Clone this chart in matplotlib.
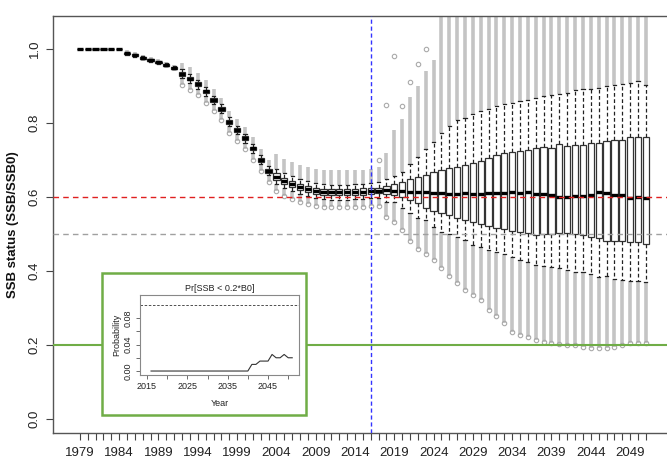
import matplotlib
matplotlib.use('Agg')
import matplotlib.pyplot as plt
from matplotlib.patches import Rectangle
import numpy as np

plt.rcParams['font.family'] = ['Liberation Sans', 'DejaVu Sans']

# ---------------- data ----------------
years = list(range(1979, 2052))

med = [1.000, 1.000, 1.000, 1.000, 1.000, 1.000,
       0.988, 0.983, 0.976, 0.970, 0.964, 0.957, 0.949, 0.933, 0.920, 0.905,
       0.885, 0.862, 0.838, 0.803, 0.781, 0.759, 0.731, 0.700, 0.671, 0.655,
       0.643, 0.635, 0.627, 0.621, 0.616, 0.613, 0.612, 0.612, 0.612, 0.613,
       0.614, 0.615, 0.617, 0.618, 0.616, 0.615, 0.613, 0.613, 0.612, 0.611,
       0.610, 0.609, 0.609, 0.610, 0.608, 0.609, 0.611, 0.610, 0.611, 0.612,
       0.610, 0.614, 0.608, 0.607, 0.604, 0.600, 0.600, 0.602, 0.603, 0.606,
       0.612, 0.610, 0.606, 0.604, 0.597, 0.600, 0.597]

q1 = [1.000, 1.000, 1.000, 1.000, 1.000, 1.000,
      0.986, 0.981, 0.974, 0.968, 0.962, 0.955, 0.947, 0.928, 0.915, 0.900,
      0.880, 0.857, 0.833, 0.798, 0.776, 0.754, 0.726, 0.695, 0.665, 0.647,
      0.635, 0.627, 0.619, 0.613, 0.608, 0.605, 0.604, 0.604, 0.604, 0.605,
      0.606, 0.607, 0.611, 0.607, 0.604, 0.600, 0.592, 0.584, 0.570, 0.561,
      0.557, 0.550, 0.542, 0.539, 0.533, 0.526, 0.521, 0.515, 0.512, 0.508,
      0.505, 0.503, 0.497, 0.499, 0.501, 0.502, 0.503, 0.500, 0.497, 0.491,
      0.488, 0.480, 0.480, 0.482, 0.478, 0.478, 0.474]

q3 = [1.000, 1.000, 1.000, 1.000, 1.000, 1.000,
      0.990, 0.985, 0.978, 0.972, 0.966, 0.959, 0.951, 0.938, 0.925, 0.910,
      0.890, 0.867, 0.843, 0.808, 0.786, 0.764, 0.736, 0.705, 0.676, 0.664,
      0.652, 0.644, 0.636, 0.630, 0.625, 0.622, 0.621, 0.621, 0.621, 0.622,
      0.623, 0.624, 0.625, 0.630, 0.636, 0.641, 0.648, 0.654, 0.660, 0.667,
      0.672, 0.677, 0.682, 0.686, 0.693, 0.697, 0.706, 0.712, 0.718, 0.722,
      0.725, 0.727, 0.731, 0.734, 0.733, 0.743, 0.738, 0.741, 0.741, 0.745,
      0.746, 0.750, 0.754, 0.755, 0.761, 0.763, 0.763]

whis_hi = [1.000, 1.000, 1.000, 1.000, 1.000, 1.000,
           0.992, 0.987, 0.980, 0.974, 0.968, 0.961, 0.953, 0.945, 0.932, 0.917,
           0.897, 0.874, 0.850, 0.815, 0.793, 0.771, 0.743, 0.712, 0.683, 0.676,
           0.664, 0.656, 0.648, 0.642, 0.637, 0.634, 0.633, 0.633, 0.633, 0.634,
           0.635, 0.637, 0.640, 0.648, 0.656, 0.668, 0.690, 0.708, 0.730, 0.748,
           0.774, 0.792, 0.808, 0.814, 0.825, 0.832, 0.837, 0.845, 0.850, 0.855,
           0.858, 0.862, 0.868, 0.872, 0.876, 0.878, 0.880, 0.889, 0.891, 0.893,
           0.895, 0.900, 0.903, 0.906, 0.909, 0.912, 0.902]

whis_lo = [1.000, 1.000, 1.000, 1.000, 1.000, 1.000,
           0.984, 0.979, 0.972, 0.966, 0.960, 0.953, 0.945, 0.921, 0.908, 0.893,
           0.873, 0.850, 0.826, 0.791, 0.769, 0.747, 0.719, 0.688, 0.659, 0.636,
           0.624, 0.616, 0.608, 0.602, 0.597, 0.594, 0.593, 0.593, 0.593, 0.594,
           0.595, 0.596, 0.597, 0.587, 0.585, 0.569, 0.556, 0.542, 0.538, 0.520,
           0.506, 0.500, 0.493, 0.484, 0.470, 0.466, 0.457, 0.450, 0.446, 0.437,
           0.430, 0.425, 0.416, 0.414, 0.410, 0.408, 0.403, 0.398, 0.398, 0.392,
           0.383, 0.386, 0.378, 0.376, 0.374, 0.374, 0.371]

# extent of the dense band of outliers above / below the whiskers
flier_hi = [1.000, 1.000, 1.000, 1.000, 1.000, 1.000,
            0.996, 0.991, 0.984, 0.978, 0.972, 0.965, 0.957, 0.963, 0.950, 0.935,
            0.915, 0.892, 0.868, 0.833, 0.811, 0.789, 0.761, 0.730, 0.701, 0.715,
            0.703, 0.695, 0.687, 0.681, 0.676, 0.673, 0.672, 0.672, 0.672, 0.673,
            0.674, 0.675, 0.680, 0.720, 0.780, 0.810, 0.870, 0.900, 0.940, 0.970,
            1.200, 1.200, 1.200, 1.200, 1.200, 1.200, 1.200, 1.200, 1.200, 1.200,
            1.200, 1.200, 1.200, 1.200, 1.200, 1.200, 1.200, 1.200, 1.200, 1.200,
            1.200, 1.200, 1.200, 1.200, 1.200, 1.200, 1.200]

flier_lo = [1.000, 1.000, 1.000, 1.000, 1.000, 1.000,
            0.980, 0.975, 0.968, 0.962, 0.956, 0.949, 0.941, 0.903, 0.890, 0.875,
            0.855, 0.832, 0.808, 0.773, 0.751, 0.729, 0.701, 0.670, 0.641, 0.615,
            0.603, 0.595, 0.587, 0.581, 0.576, 0.573, 0.572, 0.572, 0.572, 0.573,
            0.574, 0.575, 0.575, 0.547, 0.533, 0.511, 0.480, 0.460, 0.445, 0.430,
            0.407, 0.385, 0.367, 0.349, 0.335, 0.322, 0.295, 0.277, 0.259, 0.236,
            0.227, 0.222, 0.214, 0.209, 0.205, 0.203, 0.200, 0.200, 0.195, 0.191,
            0.191, 0.191, 0.195, 0.200, 0.205, 0.205, 0.205]

# isolated upper outliers in the early projection years
iso_years = [2017, 2018, 2019, 2020, 2021, 2022, 2023]
iso_vals = [0.700, 0.849, 0.980, 0.845, 0.910, 0.960, 1.000]

proj_start = 2016
ref_red = 0.6
ref_grey = 0.5
ref_green = 0.2

yticks = [0.0, 0.2, 0.4, 0.6, 0.8, 1.0]

# inset: probability SSB < 0.2 B0
p_years = list(range(2016, 2052))
p_vals = [0.0] * 25 + [0.010, 0.010, 0.015, 0.015, 0.015, 0.025,
                       0.020, 0.020, 0.025, 0.020, 0.020]
p_limit = 0.1

# ---------------- figure ----------------
W, H = 667, 461
fig = plt.figure(figsize=(W / 100, H / 100), dpi=100)


def fr(x0, y0, x1, y1):
    return [x0 / W, 1 - y1 / H, (x1 - x0) / W, (y1 - y0) / H]


ax = fig.add_axes(fr(53, 16, 672.7, 433))
ax.set_xlim(1975.58, 2054.42)
ax.set_ylim(-0.038, 1.089)

yr = np.array(years)
band_col = '#c4c4c4'
ax.vlines(yr, whis_hi, flier_hi, colors=band_col, lw=2.6, zorder=1)
ax.vlines(yr, flier_lo, whis_lo, colors=band_col, lw=2.6, zorder=1)
lo_arr = np.array(flier_lo)
wl_arr = np.array(whis_lo)
m = lo_arr < wl_arr - 0.01
ax.plot(yr[m], lo_arr[m], 'o', mfc='none', mec='#aaaaaa', ms=3.2, mew=0.8, zorder=1)
ax.plot(iso_years, iso_vals, 'o', mfc='none', mec='#aaaaaa', ms=3.2, mew=0.8, zorder=1)

stats = [dict(med=a, q1=b, q3=c, whislo=d, whishi=e, fliers=[])
         for a, b, c, d, e in zip(med, q1, q3, whis_lo, whis_hi)]
ax.bxp(stats, positions=years, widths=0.8, patch_artist=True, showfliers=False,
       manage_ticks=False,
       boxprops=dict(facecolor='white', edgecolor='#333333', linewidth=0.9),
       medianprops=dict(color='black', linewidth=2.4, solid_capstyle='butt'),
       whiskerprops=dict(color='#222222', linewidth=0.9, linestyle=(0, (3, 2))),
       capprops=dict(color='#222222', linewidth=0.9),
       zorder=2)

ax.axhline(ref_red, color='#e02020', lw=1.0, ls=(0, (4, 3)), zorder=3)
ax.axhline(ref_grey, color='#a0a0a0', lw=1.0, ls=(0, (4, 3)), zorder=3)
ax.axhline(ref_green, color='#70ad47', lw=1.5, zorder=3)
ax.axvline(proj_start, color='#3333ff', lw=1.0, ls=(0, (3, 2)), zorder=3)

ax.set_xticks(years)
ax.set_xticklabels([str(y) if (y - years[0]) % 5 == 0 else '' for y in years])
ax.set_yticks(yticks)
ax.set_yticklabels(['%.1f' % v for v in yticks], rotation=90, va='center')
ax.tick_params(axis='both', direction='out', length=5, width=0.8,
               color='#444444', labelsize=9.5, labelcolor='#222222')
ax.tick_params(axis='x', pad=5)
ax.tick_params(axis='y', pad=4)
for s in ax.spines.values():
    s.set_color('#555555')
    s.set_linewidth(1.0)

fig.text(13 / W, 1 - 225 / H, 'SSB status (SSB/SSB0)', rotation=90,
         ha='center', va='center', fontsize=9.5, fontweight='bold', color='#111111')

# ---------------- inset ----------------
fig.patches.append(Rectangle((102 / W, 1 - 415 / H), 204 / W, 142 / H,
                             transform=fig.transFigure, facecolor='white',
                             edgecolor='#70ad47', lw=1.8, zorder=5))
iax = fig.add_axes(fr(140, 295, 299, 375))
iax.set_zorder(6)
iax.plot(p_years, p_vals, color='#333333', lw=0.8)
iax.axhline(p_limit, color='#333333', lw=0.6, ls=(0, (3, 2)))
iax.set_xlim(2013.26, 2052.68)
iax.set_ylim(-0.006, 0.1147)
ix = list(range(2015, 2051, 5))
iax.set_xticks(ix)
iax.set_xticklabels([str(v) if (v - 2015) % 10 == 0 else '' for v in ix])
iy = [0.0, 0.02, 0.04, 0.06, 0.08]
iax.set_yticks(iy)
iax.set_yticklabels(['%.2f' % v if i % 2 == 0 else '' for i, v in enumerate(iy)],
                    rotation=90, va='center')
iax.tick_params(axis='both', direction='out', length=3, width=0.6,
                color='#555555', labelsize=6.5, labelcolor='#222222', pad=2)
for s in iax.spines.values():
    s.set_color('#888888')
    s.set_linewidth(0.8)
iax.set_title('Pr[SSB < 0.2*B0]', fontsize=6.5, pad=3, color='#222222')
iax.set_ylabel('Probability', fontsize=6.5, labelpad=2, color='#222222')
iax.set_xlabel('Year', fontsize=6.5, labelpad=6, color='#222222')

fig.savefig('out.png', dpi=100)
